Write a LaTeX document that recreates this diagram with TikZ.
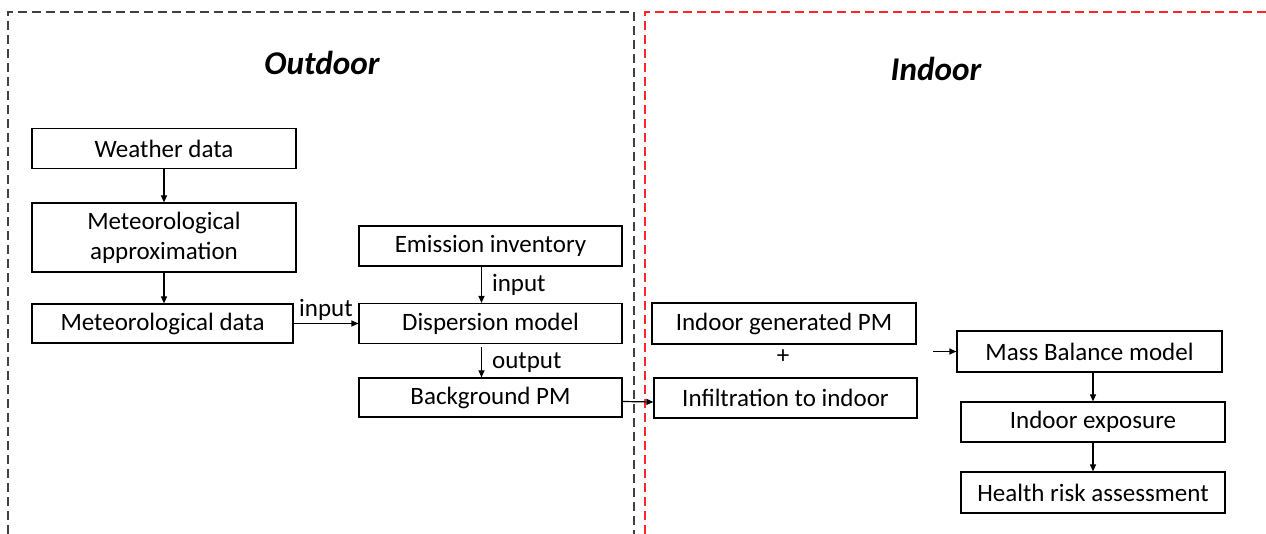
\documentclass[tikz,border=0pt]{standalone}
\usepackage{fontspec}
\setmainfont{Carlito}
\usetikzlibrary{arrows.meta}

\begin{document}
\begin{tikzpicture}[x=0.5pt,y=-0.5pt]

    \tikzset{
      box/.style={
        draw,
        line width=0.6pt,
        inner sep=0pt,
        minimum width=132pt,
        minimum height=20pt,
        align=center,
        font=\fontsize{12.5}{15}\selectfont,
      },
      lbl/.style={font=\fontsize{12.5}{15}\selectfont},
      title/.style={font=\fontsize{16.6}{19}\selectfont\bfseries\itshape},
      link/.style={line width=0.6pt,-{Triangle[length=3.5pt,width=3pt]}},
      zone/.style={line width=0.6pt,dash pattern=on 4.5pt off 2.5pt},
    }
    \useasboundingbox (0,0) rectangle (1266,534);

    % zones
    \draw[zone,color=black!75] (8,534)--(8,12)--(634,12)--(634,534);
    \draw[zone,color=red!85] (645,534)--(645,12)--(1266,12);
    \node[title] (outdoor) at (322,63) {Outdoor};
    \node[title] (indoor) at (936,69) {Indoor};

    % outdoor
    \node[box] (weather) at (164,148.5) {Weather data};
    \node[box,minimum height=34.5pt] (metapprox) at (164,237.5) {Meteorological\\approximation};
    \node[box,minimum width=130.5pt,minimum height=19.5pt] (metdata) at (162.5,323.5) {Meteorological data};
    \node[box,minimum width=131.5pt] (emis) at (490.5,246) {Emission inventory};
    \node[box,minimum width=131.5pt] (disp) at (490.5,323.5) {Dispersion model};
    \node[box,minimum width=131.5pt,minimum height=19.5pt] (bgpm) at (490.5,397.5) {Background PM};

    % indoor
    \node[box,minimum height=20.5pt] (indgen) at (784,323.5) {Indoor generated PM};
    \node[lbl] (plus) at (783,357) {+};
    \node[box,minimum width=131.5pt] (infil) at (785.5,398) {Infiltration to indoor};
    \coordinate (sum) at (933,351.5);
    \node[box,minimum width=132.5pt,minimum height=20.5pt] (mass) at (1089.5,351.5) {Mass Balance model};
    \node[box] (exposure) at (1093,422) {Indoor exposure};
    \node[box,minimum height=20.5pt] (health) at (1093,492.5) {Health risk assessment};

    \draw[link] (weather) -- (metapprox);
    \draw[link] (metapprox) -- (metapprox |- metdata.north);
    \draw[link] (metdata) -- node[lbl,above,inner sep=1pt] {input} (disp);
    \draw[link] ([xshift=-4.5pt]emis.south) -- node[lbl,right,inner sep=5pt] {input} ([xshift=-4.5pt]disp.north);
    \draw[link] ([xshift=-4.5pt,yshift=-1.5pt]disp.south) -- node[lbl,right,inner sep=5pt] {output} ([xshift=-4.5pt]bgpm.north);
    \draw[link] ([yshift=-2pt]bgpm.east) -- ([yshift=-2pt]infil.west);
    \draw[link] (sum) -- (mass);
    \draw[link] (exposure.north |- mass.south) -- (exposure);
    \draw[link] (exposure) -- (health);

\end{tikzpicture}
\end{document}
